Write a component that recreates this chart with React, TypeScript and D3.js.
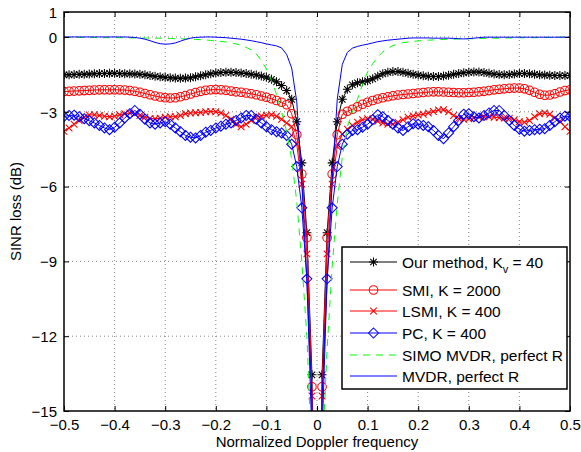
import React, { useEffect, useRef } from "react";
import * as d3 from "d3";

// normalized Doppler frequency grid
const freq = [
  -0.5, -0.49, -0.48, -0.47, -0.46, -0.45, -0.44, -0.43, -0.42, -0.41,
  -0.4, -0.39, -0.38, -0.37, -0.36, -0.35, -0.34, -0.33, -0.32, -0.31,
  -0.3, -0.29, -0.28, -0.27, -0.26, -0.25, -0.24, -0.23, -0.22, -0.21,
  -0.2, -0.19, -0.18, -0.17, -0.16, -0.15, -0.14, -0.13, -0.12, -0.11,
  -0.1, -0.09, -0.08, -0.07, -0.06, -0.05, -0.04, -0.03, -0.02, -0.01,
  0,
  0.01, 0.02, 0.03, 0.04, 0.05, 0.06, 0.07, 0.08, 0.09, 0.1,
  0.11, 0.12, 0.13, 0.14, 0.15, 0.16, 0.17, 0.18, 0.19, 0.2,
  0.21, 0.22, 0.23, 0.24, 0.25, 0.26, 0.27, 0.28, 0.29, 0.3,
  0.31, 0.32, 0.33, 0.34, 0.35, 0.36, 0.37, 0.38, 0.39, 0.4,
  0.41, 0.42, 0.43, 0.44, 0.45, 0.46, 0.47, 0.48, 0.49, 0.5,
];

// SINR loss (dB)
const ourMethod = [
  -1.52, -1.52, -1.51, -1.5, -1.5, -1.49, -1.48, -1.47, -1.47, -1.46,
  -1.46, -1.47, -1.48, -1.48, -1.49, -1.5, -1.52, -1.55, -1.58, -1.6,
  -1.62, -1.64, -1.65, -1.66, -1.65, -1.64, -1.6, -1.56, -1.52, -1.48,
  -1.45, -1.43, -1.42, -1.42, -1.43, -1.45, -1.47, -1.5, -1.53, -1.57,
  -1.62, -1.7, -1.8, -1.95, -2.15, -2.5, -3.4, -5.05, -7.85, -13.55,
  -40,
  -13.55, -7.85, -5.05, -3.4, -2.5, -2.1, -1.92, -1.84, -1.8, -1.76,
  -1.68, -1.58, -1.48, -1.42, -1.39, -1.39, -1.42, -1.46, -1.5, -1.53,
  -1.56, -1.58, -1.59, -1.59, -1.57, -1.54, -1.5, -1.47, -1.44, -1.42,
  -1.41, -1.41, -1.43, -1.46, -1.49, -1.51, -1.52, -1.51, -1.49, -1.47,
  -1.47, -1.48, -1.5, -1.52, -1.53, -1.54, -1.55, -1.55, -1.55, -1.55,
];

const smi = [
  -2.19, -2.18, -2.17, -2.16, -2.15, -2.14, -2.13, -2.12, -2.12, -2.12,
  -2.12, -2.12, -2.13, -2.15, -2.18, -2.22, -2.27, -2.32, -2.37, -2.41,
  -2.44, -2.45, -2.44, -2.4, -2.35, -2.29, -2.23, -2.18, -2.14, -2.12,
  -2.11, -2.12, -2.14, -2.17, -2.2, -2.22, -2.25, -2.28, -2.32, -2.37,
  -2.42, -2.48, -2.55, -2.62, -2.72, -3.08, -3.92, -5.5, -8.05, -14.03,
  -40,
  -14.03, -8.05, -5.5, -3.92, -3.1, -2.98, -2.9, -2.8, -2.7, -2.62,
  -2.55, -2.49, -2.44, -2.4, -2.36, -2.33, -2.31, -2.29, -2.27, -2.25,
  -2.23, -2.21, -2.2, -2.2, -2.21, -2.22, -2.23, -2.24, -2.24, -2.23,
  -2.22, -2.2, -2.18, -2.15, -2.12, -2.1, -2.08, -2.06, -2.05, -2.05,
  -2.08, -2.14, -2.22, -2.3, -2.34, -2.33, -2.28, -2.21, -2.15, -2.12,
];

const lsmi = [
  -3.79, -3.65, -3.5, -3.35, -3.22, -3.13, -3.12, -3.15, -3.18, -3.2,
  -3.18, -3.12, -3.08, -3.05, -3.08, -3.15, -3.22, -3.27, -3.28, -3.26,
  -3.22, -3.2, -3.2, -3.15, -3.08, -3.05, -3.04, -3.03, -3.0, -2.99,
  -3.0, -3.05, -3.15, -3.3, -3.5, -3.6, -3.5, -3.35, -3.22, -3.17,
  -3.14, -3.12, -3.18, -3.3, -3.45, -3.6, -4.3, -5.9, -8.7, -14.4,
  -40,
  -14.4, -8.7, -5.9, -4.4, -3.9, -3.7, -3.55, -3.42, -3.32, -3.28,
  -3.3, -3.38, -3.45, -3.5, -3.5, -3.42, -3.32, -3.22, -3.17, -3.13,
  -3.1, -3.05, -2.99, -2.93, -2.92, -3.0, -3.15, -3.27, -3.3, -3.28,
  -3.25, -3.22, -3.2, -3.2, -3.22, -3.24, -3.25, -3.27, -3.32, -3.4,
  -3.42, -3.35, -3.2, -3.08, -3.05, -3.1, -3.25, -3.38, -3.6, -3.79,
];

const pc = [
  -3.19, -3.15, -3.14, -3.2, -3.28, -3.36, -3.45, -3.55, -3.65, -3.72,
  -3.62, -3.45, -3.25, -3.08, -2.95, -3.1, -3.3, -3.45, -3.5, -3.45,
  -3.4, -3.5, -3.65, -3.8, -3.95, -4.02, -4.05, -3.95, -3.82, -3.75,
  -3.65, -3.58, -3.5, -3.45, -3.35, -3.25, -3.15, -3.15, -3.3, -3.45,
  -3.6, -3.72, -3.8, -3.85, -3.95, -4.3, -5.2, -6.85, -9.7, -16,
  -40,
  -16, -9.7, -6.85, -5.2, -4.3, -3.9, -3.75, -3.72, -3.62, -3.5,
  -3.32, -3.12, -3.2, -3.35, -3.5, -3.65, -3.75, -3.6, -3.48, -3.5,
  -3.55, -3.6, -3.75, -3.95, -4.08, -3.85, -3.6, -3.35, -3.1, -3.08,
  -3.2, -3.25, -3.15, -3.05, -2.95, -2.95, -3.15, -3.35, -3.55, -3.7,
  -3.78, -3.75, -3.72, -3.7, -3.68, -3.55, -3.4, -3.25, -3.18, -3.19,
];

const simoMvdr = [
  -0.02, -0.02, -0.02, -0.02, -0.02, -0.02, -0.02, -0.03, -0.03, -0.03,
  -0.03, -0.03, -0.03, -0.04, -0.04, -0.04, -0.04, -0.05, -0.05, -0.05,
  -0.06, -0.06, -0.07, -0.07, -0.08, -0.09, -0.1, -0.11, -0.12, -0.14,
  -0.16, -0.18, -0.2, -0.24, -0.28, -0.34, -0.42, -0.52, -0.68, -0.95,
  -1.28, -1.75, -2.3, -3.0, -3.8, -4.9, -6.6, -9.0, -12.0, -17.0,
  -40,
  -17.0, -12.5, -9.2, -6.7, -4.8, -3.6, -3.0, -2.5, -1.9, -1.4,
  -1.08, -0.8, -0.6, -0.45, -0.35, -0.28, -0.23, -0.2, -0.18, -0.16,
  -0.14, -0.13, -0.12, -0.11, -0.1, -0.09, -0.09, -0.08, -0.08, -0.07,
  -0.07, -0.06, -0.06, -0.05, -0.05, -0.05, -0.04, -0.04, -0.04, -0.03,
  -0.03, -0.03, -0.03, -0.02, -0.02, -0.02, -0.02, -0.01, -0.01, -0.01,
];

const mvdr = [
  0, 0, 0, 0, 0, 0, 0, 0, 0, 0,
  0, 0, 0, -0.01, -0.02, -0.05, -0.09, -0.15, -0.22, -0.27,
  -0.29, -0.28, -0.24, -0.17, -0.1, -0.05, -0.02, -0.01, 0, 0,
  -0.01, -0.02, -0.03, -0.05, -0.07, -0.09, -0.12, -0.15, -0.19, -0.23,
  -0.28, -0.32, -0.36, -0.44, -0.7, -1.25, -2.6, -5.8, -9.8, -14.5,
  -40,
  -14.5, -9.8, -5.8, -2.5, -1.1, -0.62, -0.45, -0.38, -0.33, -0.29,
  -0.24, -0.19, -0.16, -0.13, -0.11, -0.09, -0.07, -0.05, -0.04, -0.04,
  -0.04, -0.04, -0.05, -0.05, -0.05, -0.05, -0.06, -0.07, -0.08, -0.07,
  -0.05, -0.03, -0.01, -0.01, -0.01, -0.01, -0.01, -0.01, -0.01, -0.01,
  -0.01, -0.01, -0.01, -0.01, -0.01, -0.01, -0.01, -0.01, -0.01, -0.01,
];

const xTicks = [-0.5, -0.4, -0.3, -0.2, -0.1, 0, 0.1, 0.2, 0.3, 0.4, 0.5];
const xTickLabels = ["−0.5", "−0.4", "−0.3", "−0.2", "−0.1", "0", "0.1", "0.2", "0.3", "0.4", "0.5"];
const yTicks = [1, 0, -3, -6, -9, -12, -15];
const yTickLabels = ["1", "0", "−3", "−6", "−9", "−12", "−15"];

const seriesNames = [
  "Our method, K",
  "SMI, K = 2000",
  "LSMI, K = 400",
  "PC, K = 400",
  "SIMO MVDR, perfect R",
  "MVDR, perfect R",
];

const FONT = "'Liberation Sans', Arial, sans-serif";

const markerPath = (kind, r) => {
  if (kind === "star") {
    const d = r * 0.72;
    return `M${-r},0H${r}M0,${-r}V${r}M${-d},${-d}L${d},${d}M${-d},${d}L${d},${-d}`;
  }
  if (kind === "x") return `M${-r},${-r}L${r},${r}M${-r},${r}L${r},${-r}`;
  if (kind === "diamond") return `M0,${-r}L${r},0L0,${r}L${-r},0Z`;
  return null;
};

const App = () => {
  const svgRef = useRef(null);

  useEffect(() => {
    const width = 581;
    const height = 452;
    const margin = { top: 12, right: 11, bottom: 41, left: 64 };

    const svg = d3.select(svgRef.current)
      .attr("width", width)
      .attr("height", height)
      .style("background", "#fff");

    svg.selectAll("*").remove();

    const x = d3.scaleLinear().domain([-0.5, 0.5]).range([margin.left, width - margin.right]);
    const y = d3.scaleLinear().domain([-15, 1]).range([height - margin.bottom, margin.top]);

    const series = [
      { name: seriesNames[0], values: ourMethod, color: "#000", marker: "star", r: 4.5 },
      { name: seriesNames[1], values: smi, color: "#ff0000", marker: "circle", r: 4.3 },
      { name: seriesNames[2], values: lsmi, color: "#ff0000", marker: "x", r: 3.3 },
      { name: seriesNames[3], values: pc, color: "#0000ff", marker: "diamond", r: 5 },
      { name: seriesNames[4], values: simoMvdr, color: "#00ff00", marker: null, dash: "7,6" },
      { name: seriesNames[5], values: mvdr, color: "#0000ff", marker: null },
    ];

    svg.append("defs").append("clipPath").attr("id", "plotClip")
      .append("rect")
      .attr("x", margin.left).attr("y", margin.top)
      .attr("width", width - margin.left - margin.right)
      .attr("height", height - margin.top - margin.bottom);

    // grid
    const grid = svg.append("g")
      .attr("stroke", "#777")
      .attr("stroke-width", 0.9)
      .attr("stroke-dasharray", "1,3");
    grid.selectAll(".gx").data(xTicks.slice(1, -1)).enter().append("line")
      .attr("x1", d => x(d)).attr("x2", d => x(d))
      .attr("y1", margin.top).attr("y2", height - margin.bottom);
    grid.selectAll(".gy").data(yTicks.slice(1, -1)).enter().append("line")
      .attr("y1", d => y(d)).attr("y2", d => y(d))
      .attr("x1", margin.left).attr("x2", width - margin.right);

    // curves
    const plot = svg.append("g").attr("clip-path", "url(#plotClip)");
    const line = d3.line()
      .x((d, i) => x(freq[i]))
      .y(d => y(d));

    series.forEach(s => {
      plot.append("path")
        .datum(s.values)
        .attr("fill", "none")
        .attr("stroke", s.color)
        .attr("stroke-width", 1)
        .attr("stroke-dasharray", s.dash || null)
        .attr("d", line);

      if (s.marker === "circle") {
        plot.selectAll(null).data(s.values).enter().append("circle")
          .attr("cx", (d, i) => x(freq[i]))
          .attr("cy", d => y(d))
          .attr("r", s.r)
          .attr("fill", "none")
          .attr("stroke", s.color)
          .attr("stroke-width", 1.05);
      } else if (s.marker) {
        plot.selectAll(null).data(s.values).enter().append("path")
          .attr("transform", (d, i) => `translate(${x(freq[i])},${y(d)})`)
          .attr("d", markerPath(s.marker, s.r))
          .attr("fill", "none")
          .attr("stroke", s.color)
          .attr("stroke-width", 1.05);
      }
    });

    // axes
    const xAxisB = svg.append("g")
      .attr("transform", `translate(0,${height - margin.bottom})`)
      .call(d3.axisBottom(x).tickValues(xTicks).tickFormat((d, i) => xTickLabels[i]).tickSize(-5).tickPadding(8));
    const xAxisT = svg.append("g")
      .attr("transform", `translate(0,${margin.top})`)
      .call(d3.axisTop(x).tickValues(xTicks).tickFormat("").tickSize(-5));
    const yAxisL = svg.append("g")
      .attr("transform", `translate(${margin.left},0)`)
      .call(d3.axisLeft(y).tickValues(yTicks).tickFormat((d, i) => yTickLabels[i]).tickSize(-5).tickPadding(7));
    const yAxisR = svg.append("g")
      .attr("transform", `translate(${width - margin.right},0)`)
      .call(d3.axisRight(y).tickValues(yTicks).tickFormat("").tickSize(-5));

    [xAxisB, xAxisT, yAxisL, yAxisR].forEach(a => {
      a.select(".domain").remove();
      a.selectAll("line").attr("stroke", "#000").attr("stroke-width", 1);
      a.selectAll("text")
        .attr("fill", "#000")
        .style("font-family", FONT)
        .style("font-size", "15px");
    });
    yAxisL.selectAll("text").attr("dy", "0.35em");

    svg.append("rect")
      .attr("x", margin.left).attr("y", margin.top)
      .attr("width", width - margin.left - margin.right)
      .attr("height", height - margin.top - margin.bottom)
      .attr("fill", "none")
      .attr("stroke", "#000")
      .attr("stroke-width", 1.5);

    // axis labels
    svg.append("text")
      .attr("x", (margin.left + width - margin.right) / 2)
      .attr("y", 447)
      .attr("text-anchor", "middle")
      .style("font-family", FONT)
      .style("font-size", "15px")
      .text("Normalized Doppler frequency");

    svg.append("text")
      .attr("transform", `translate(21,${(margin.top + height - margin.bottom) / 2}) rotate(-90)`)
      .attr("text-anchor", "middle")
      .style("font-family", FONT)
      .style("font-size", "15px")
      .text("SINR loss (dB)");

    // legend
    const legend = svg.append("g");
    legend.append("rect")
      .attr("x", 342).attr("y", 247)
      .attr("width", 225).attr("height", 142)
      .attr("fill", "#fff")
      .attr("stroke", "#000")
      .attr("stroke-width", 1.5);

    const rowY = [262, 290, 311, 333, 355, 376];
    series.forEach((s, i) => {
      const g = legend.append("g").attr("transform", `translate(0,${rowY[i]})`);
      g.append("line")
        .attr("x1", 350).attr("x2", 397)
        .attr("stroke", s.color)
        .attr("stroke-width", 1)
        .attr("stroke-dasharray", s.dash || null);
      if (s.marker === "circle") {
        g.append("circle").attr("cx", 373.5).attr("cy", 0).attr("r", s.r)
          .attr("fill", "none").attr("stroke", s.color).attr("stroke-width", 1.05);
      } else if (s.marker) {
        g.append("path").attr("transform", "translate(373.5,0)")
          .attr("d", markerPath(s.marker, s.r))
          .attr("fill", "none").attr("stroke", s.color).attr("stroke-width", 1.05);
      }
      const t = g.append("text")
        .attr("x", 402).attr("y", 5.5)
        .style("font-family", FONT)
        .style("font-size", "15.5px")
        .text(s.name);
      if (i === 0) {
        t.append("tspan").attr("dy", 5).style("font-size", "11px").text("v");
        t.append("tspan").attr("dy", -5).text(" = 40");
      }
    });
  }, []);

  return <svg ref={svgRef} style={{ position: "absolute", left: 0, top: 0 }}></svg>;
};

export default App;
